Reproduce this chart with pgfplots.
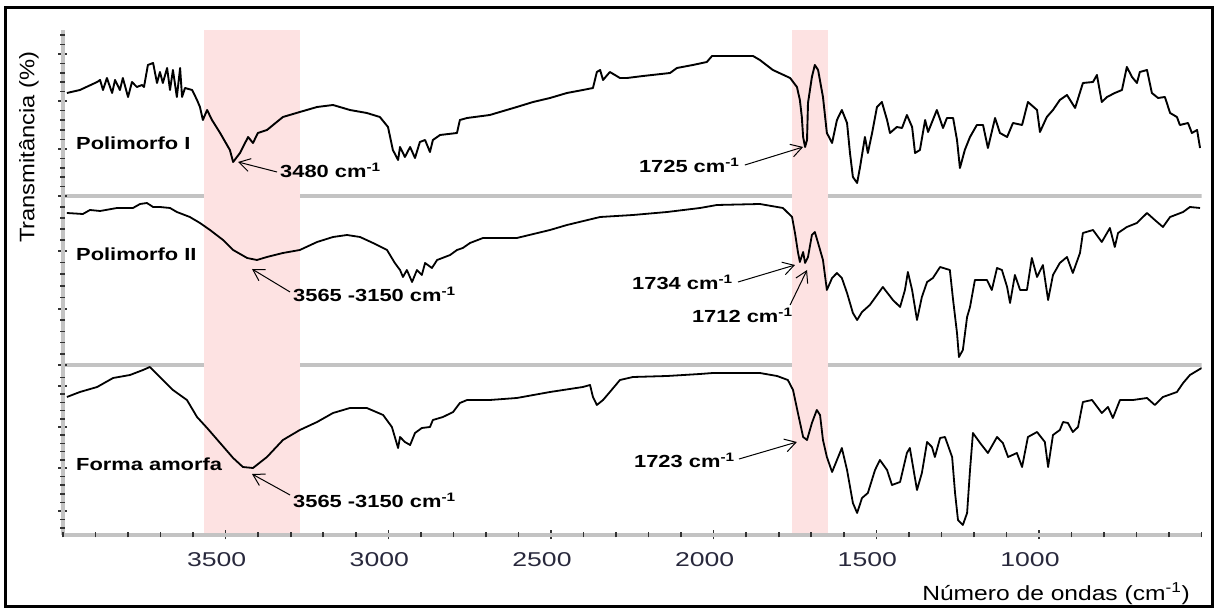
\documentclass[border=0pt]{standalone}
\usepackage{fontspec}
\setmainfont{Liberation Sans}
\usepackage{pgfplots}
\pgfplotsset{compat=1.18}
\usetikzlibrary{arrows.meta}

\definecolor{bandpink}{RGB}{253,226,226}
\definecolor{axgray}{RGB}{195,195,195}
\definecolor{ticktext}{RGB}{40,40,60}

% bold annotation text, stretched like the source figure
\newcommand{\ann}[1]{\scalebox{1.25}[1]{\fontsize{17.5}{20}\selectfont\bfseries #1}}
\newcommand{\cmi}{cm\textsuperscript{-1}}

\begin{document}
\begin{tikzpicture}
\useasboundingbox (0,0) rectangle (1215pt,610pt);
\draw[line width=3pt] (5.5pt,3.5pt) rectangle (1212.5pt,602.5pt);
\begin{axis}[
    at={(63pt,75pt)}, anchor=south west,
    scale only axis, width=1138.7pt, height=505pt,
    x dir=reverse, xmin=500, xmax=4000, ymin=0, ymax=505,
    axis on top,
    axis x line*=bottom, axis y line*=left,
    axis line style={axgray, line width=4pt},
    tick align=center,
    major tick length=9pt,
    tick style={line width=1.6pt, black!80},
    xtick={1000,1500,2000,2500,3000,3500},
    xticklabel={\scalebox{1.33}[1]{\pgfmathprintnumber[assume math mode=true,1000 sep={}]{\tick}}},
    xticklabel style={font=\fontsize{20}{24}\selectfont, text=ticktext, inner sep=0pt, anchor=base, yshift=-27pt, xshift=-9pt},
    extra x ticks={500,600,700,800,900,1100,1200,1300,1400,1600,1700,1800,1900,2100,2200,2300,2400,
                   2600,2700,2800,2900,3100,3200,3300,3400,3600,3700,3800,3900,4000},
    extra x tick labels={},
    extra x tick style={major tick length=5pt},
    ytick={24,67,108,149,170,226,284,339,386,434,481},
    yticklabels={},
    extra y ticks={6.8,15.4,32.6,41.2,49.8,58.4,75.2,83.4,91.6,99.8,116.2,124.4,132.6,140.8,157.5,
                 181.2,192.4,203.6,214.8,237.6,249.2,260.8,272.4,295,306,317,328,
                 348.4,357.8,367.2,376.6,395.6,405.2,414.8,424.4,443.4,452.8,462.2,471.6,490.5,500},
    extra y tick labels={},
    extra y tick style={major tick length=5pt},
    xlabel={\scalebox{1.2}[1]{Número de ondas (cm\textsuperscript{-1})}},
    xlabel style={at={(axis description cs:0.98973,-0.1297)}, anchor=base east, inner sep=0pt, font=\fontsize{20.5}{24}\selectfont},
    ylabel={\scalebox{1.13}[1]{Transmitância (\%)}},
    ylabel style={at={(axis description cs:-0.02986,0.768)}, anchor=center, inner sep=0pt, font=\fontsize{21}{25}\selectfont},
]
% separators between the three spectra
\draw[axgray, line width=4pt] (axis cs:4000,338.5) -- (axis cs:500,338.5);
\draw[axgray, line width=4pt] (axis cs:4000,169.5) -- (axis cs:500,169.5);
% highlighted bands
\fill[bandpink] (axis cs:3566,0) rectangle (axis cs:3273,505);
\fill[bandpink] (axis cs:1760,0) rectangle (axis cs:1649,505);

% Polimorfo I
\addplot[black, line width=1.9pt, line join=round] coordinates {
(3988,442)(3948,445)(3895,453)(3886,455)(3877,445)(3865,457)(3849,442)(3840,455)(3825,445)(3816,457)
(3800,438)(3788,453)(3773,448)(3757,450)(3751,448)(3739,470)(3723,472)(3711,452)(3702,463)(3693,452)
(3680,467)(3671,445)(3662,465)(3650,438)(3640,467)(3634,438)(3625,447)(3603,445)(3588,435)(3579,428)
(3570,415)(3557,425)(3542,415)(3517,402)(3487,385)(3477,373)(3456,382)(3431,398)(3416,392)(3401,402)
(3373,405)(3324,418)(3272,423)(3219,428)(3170,430)(3118,425)(3066,422)(3026,418)(3001,408)(2986,385)
(2970,375)(2964,388)(2949,378)(2933,388)(2918,377)(2903,393)(2887,395)(2872,383)(2863,395)(2841,400)
(2789,402)(2780,415)(2758,417)(2688,420)(2657,423)(2605,428)(2555,433)(2503,437)(2451,442)(2402,445)
(2371,447)(2359,463)(2349,465)(2340,455)(2319,463)(2288,457)(2266,457)(2217,459)(2134,462)(2113,467)
(2064,470)(2021,473)(2005,479)(1879,479)(1858,475)(1818,465)(1765,457)(1744,448)(1735,435)(1729,418)
(1725,398)(1719,388)(1713,395)(1710,432)(1698,458)(1689,470)(1679,465)(1664,438)(1652,402)(1636,392)
(1621,415)(1606,425)(1590,412)(1581,382)(1572,358)(1559,352)(1550,368)(1535,398)(1526,382)(1513,402)
(1498,428)(1483,433)(1467,415)(1458,402)(1437,408)(1421,407)(1406,420)(1390,408)(1381,382)(1366,385)
(1350,415)(1341,403)(1314,425)(1295,407)(1283,417)(1264,417)(1252,395)(1243,367)(1228,385)(1212,398)
(1191,410)(1172,410)(1157,387)(1135,417)(1120,402)(1098,398)(1080,412)(1052,410)(1034,433)(1006,425)
(997,403)(976,418)(957,425)(936,435)(914,440)(889,427)(865,452)(834,453)(822,460)(807,433)
(791,438)(767,442)(745,445)(730,468)(714,458)(699,452)(690,463)(668,465)(653,442)(634,437)
(613,438)(597,422)(576,418)(567,410)(542,412)(530,402)(514,405)(505,387)
};

% Polimorfo II
\addplot[black, line width=1.8pt, line join=round] coordinates {
(3988,322)(3939,321)(3917,325)(3886,324)(3834,327)(3785,327)(3763,331)(3742,332)(3723,328)(3702,328)
(3671,327)(3650,323)(3610,318)(3579,312)(3548,305)(3508,295)(3477,285)(3434,277)(3404,275)(3373,278)
(3324,282)(3272,285)(3219,293)(3170,298)(3127,300)(3087,298)(3047,292)(3004,285)(2980,272)(2964,265)
(2955,258)(2943,265)(2927,253)(2912,265)(2897,260)(2887,272)(2866,267)(2850,275)(2810,280)(2789,285)
(2771,287)(2749,292)(2709,297)(2605,297)(2503,305)(2451,310)(2349,318)(2248,320)(2143,323)(2042,327)
(1990,330)(1858,331)(1787,327)(1759,318)(1750,302)(1741,283)(1735,273)(1725,283)(1719,272)(1710,278)
(1698,300)(1689,303)(1679,292)(1664,275)(1652,245)(1636,257)(1621,262)(1606,257)(1590,242)(1572,222)
(1559,215)(1544,223)(1520,230)(1480,248)(1449,235)(1427,228)(1412,245)(1403,263)(1390,245)(1375,215)
(1360,238)(1344,253)(1326,257)(1304,268)(1274,265)(1264,235)(1252,202)(1246,178)(1234,185)(1221,218)
(1212,228)(1197,255)(1160,255)(1145,245)(1129,267)(1114,265)(1098,248)(1089,232)(1074,260)(1058,245)
(1037,245)(1022,277)(1006,258)(988,270)(972,235)(957,260)(936,272)(914,278)(896,262)(874,282)
(865,302)(834,305)(807,293)(782,307)(767,288)(757,302)(730,308)(699,312)(668,322)(644,315)
(619,308)(597,318)(557,323)(536,328)(505,327)
};

% Forma amorfa
\addplot[black, line width=1.8pt, line join=round] coordinates {
(3988,138)(3948,143)(3895,148)(3846,157)(3794,160)(3754,165)(3733,168)(3702,158)(3662,145)(3619,135)
(3588,118)(3557,107)(3517,92)(3477,77)(3447,68)(3416,67)(3373,78)(3324,95)(3272,105)(3219,113)
(3170,122)(3118,127)(3066,127)(3016,120)(2989,108)(2970,87)(2964,98)(2949,93)(2933,90)(2918,102)
(2897,107)(2872,108)(2863,115)(2832,118)(2801,123)(2780,132)(2758,135)(2688,135)(2605,137)(2503,143)
(2402,148)(2380,150)(2371,138)(2359,130)(2340,135)(2319,143)(2288,155)(2248,158)(2143,159)(2042,161)
(2002,162)(1858,162)(1805,159)(1772,155)(1756,145)(1741,122)(1725,98)(1713,95)(1698,112)(1683,125)
(1673,120)(1664,95)(1652,78)(1636,63)(1621,75)(1606,87)(1590,65)(1572,32)(1559,22)(1544,37)
(1526,42)(1504,65)(1489,75)(1467,65)(1452,50)(1427,53)(1406,82)(1397,87)(1387,68)(1375,45)
(1360,62)(1344,93)(1329,88)(1320,78)(1304,97)(1289,98)(1267,78)(1258,42)(1249,15)(1234,10)
(1221,22)(1212,65)(1203,102)(1181,92)(1157,82)(1129,98)(1111,92)(1095,78)(1068,82)(1052,68)
(1034,98)(1006,103)(982,93)(972,68)(957,100)(936,105)(926,113)(911,112)(896,103)(880,108)
(865,133)(837,135)(807,122)(788,128)(773,117)(751,135)(711,135)(668,137)(644,130)(619,138)
(576,143)(557,152)(536,160)(500,167)
};

% annotations
\tikzset{ar/.style={line width=1pt, -{Straight Barb[length=11pt,width=13pt,line width=1pt]}}}
\node[anchor=base west, inner sep=0pt] at (axis cs:3960,385) {\ann{Polimorfo I}};
\node[anchor=base west, inner sep=0pt] at (axis cs:3333,357) {\ann{3480 \cmi}};
\draw[ar] (axis cs:3342,363) -- (axis cs:3462,373);
\node[anchor=base west, inner sep=0pt] at (axis cs:2230,362) {\ann{1725 \cmi}};
\draw[ar] (axis cs:1904,370) -- (axis cs:1725,388);

\node[anchor=base west, inner sep=0pt] at (axis cs:3960,274) {\ann{Polimorfo II}};
\node[anchor=base west, inner sep=0pt] at (axis cs:3293,233) {\ann{3565 -3150 \cmi}};
\draw[ar] (axis cs:3302,243) -- (axis cs:3419,266);
\node[anchor=base west, inner sep=0pt] at (axis cs:2251,245) {\ann{1734 \cmi}};
\draw[ar] (axis cs:1925,253) -- (axis cs:1750,270);
\node[anchor=base west, inner sep=0pt] at (axis cs:2067,212) {\ann{1712 \cmi}};
\draw[ar] (axis cs:1765,230) -- (axis cs:1713,265);

\node[anchor=base west, inner sep=0pt] at (axis cs:3960,64) {\ann{Forma amorfa}};
\node[anchor=base west, inner sep=0pt] at (axis cs:3293,27) {\ann{3565 -3150 \cmi}};
\draw[ar] (axis cs:3302,40) -- (axis cs:3419,61);
\node[anchor=base west, inner sep=0pt] at (axis cs:2245,67) {\ann{1723 \cmi}};
\draw[ar] (axis cs:1922,76) -- (axis cs:1744,93);
\end{axis}
\end{tikzpicture}
\end{document}
